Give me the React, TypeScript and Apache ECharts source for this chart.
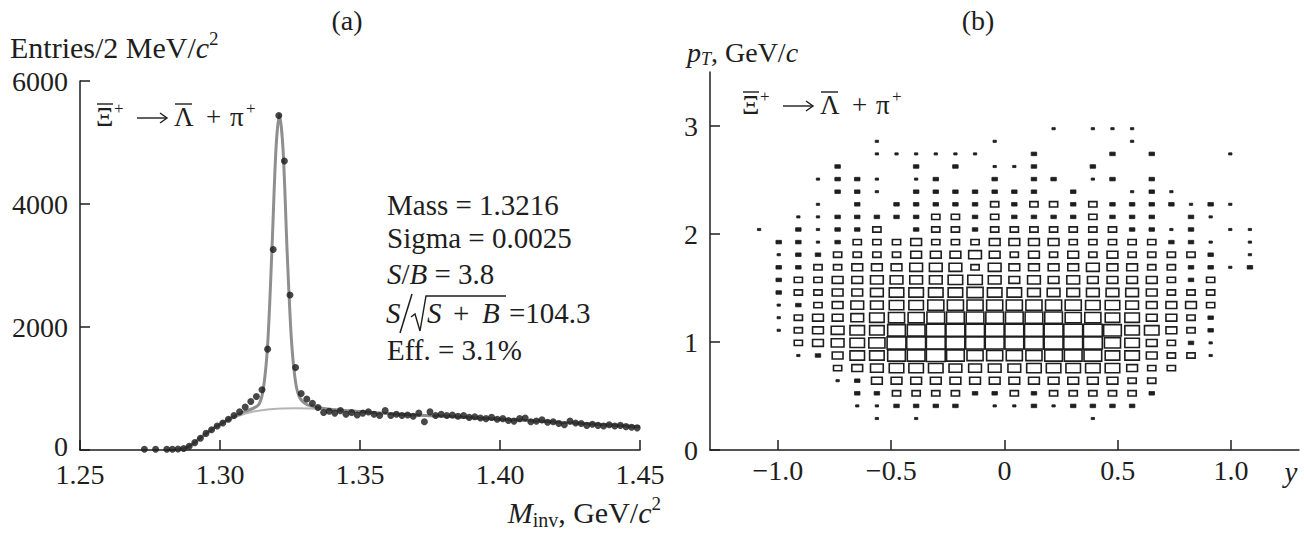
import React, { useEffect, useRef } from "react";
import * as echarts from "echarts";

const FONT = '"Liberation Serif", "DejaVu Serif", "Times New Roman", serif';
const INK = "#1e1e1e";

// ---------- Panel (a): invariant mass histogram (2 MeV bins) ----------
const massBinStart = 1.25;
const massBinWidth = 0.002;
const massFirstBin = 11;
const massCounts: (number | null)[] = [
  12, null, 12, null, 12, 12, 15, 25, 60, 120,
  190, 270, 330, 390, 440, 500, 560, 620, 700, 790,
  870, 980, 1640, 3260, 5440, 4700, 2520, 1340, 920, 830,
  760, 690, 610, 630, 600, 640, 580, 610, 570, 600,
  620, 580, 560, 640, 560, 580, 560, 570, 550, 600,
  460, 620, 560, 580, 560, 570, 550, 560, 530, 540,
  520, 510, 530, 500, 510, 480, 470, 510, 520, 460,
  470, 490, 450, 460, 430, 410, 470, 440, 430, 400,
  420, 400, 390, 410, 390, 400, 380, 370, 360,
];

// fit curve
const fitX = [1.284, 1.287, 1.29, 1.293, 1.296, 1.3, 1.304, 1.308, 1.312, 1.314, 1.3155, 1.317, 1.3185, 1.32, 1.3212, 1.3225, 1.324, 1.3255, 1.327, 1.3285, 1.331, 1.335, 1.34, 1.35, 1.36, 1.37, 1.38, 1.39, 1.4, 1.41, 1.42, 1.43, 1.44, 1.45];
const fitY = [0, 20, 90, 200, 300, 420, 520, 610, 680, 750, 1000, 1700, 3200, 4900, 5450, 4900, 3200, 1800, 1100, 850, 740, 690, 660, 625, 595, 570, 548, 525, 502, 478, 455, 430, 405, 380];
// background component
const bgX = [1.287, 1.292, 1.297, 1.302, 1.307, 1.312, 1.317, 1.322, 1.327, 1.332, 1.34, 1.36, 1.38, 1.4, 1.42, 1.44, 1.45];
const bgY = [10, 150, 330, 460, 560, 625, 660, 675, 680, 675, 655, 590, 540, 495, 450, 400, 375];

const massTicks = [1.25, 1.3, 1.35, 1.4, 1.45];
const countTicks = [0, 2000, 4000, 6000];

// ---------- Panel (b): pT vs y box histogram (30 x 30 bins) ----------
const rapMin = -1.3;
const rapMax = 1.3;
const ptMin = 0;
const ptMax = 3.5;
const nBins = 30;
// rows from top (pT bin 29) to bottom (pT bin 0); digit = box size level
const ptRows = [
  "..............................",
  "..............................",
  "..............................",
  "..............................",
  ".................1.111........",
  "........1.....1......1........",
  "........111111..2...2.2...1...",
  "......2...2.2.112..2..........",
  ".....1221.12..2.22.12.2.......",
  "......221.2222222.2..121......",
  ".....1.2.222223233232222121...",
  "....1122222332322223222.21....",
  "..1.21223.233233333332212.11..",
  "...22123334333444433333221.1..",
  "...12233334445434343433332.1..",
  "...2233444555354444544332212..",
  "...23344555566545454444323....",
  "...23344566667665555554333....",
  "...12345566777777776654443....",
  "...13445677888888877664432....",
  "...13456688999999999866432....",
  "....3456799999999999764321....",
  "....1246688987777888664331....",
  "......345666555566666433......",
  "......12444444444444433.......",
  ".......2233332232333332.......",
  ".......112222.11212222........",
  "........1.1........1..........",
  "..............................",
  "..............................",
];
const rapTicks = [-1, -0.5, 0, 0.5, 1];
const ptTicks = [0, 1, 2, 3];
const boxFrac = [0, 0.17, 0.28, 0.42, 0.55, 0.65, 0.74, 0.82, 0.9, 0.96];

function rich(size: number): any {
  const base = { fontFamily: FONT, fill: INK, color: INK };
  return {
    i: { ...base, fontStyle: "italic", fontSize: size },
    sup: { ...base, fontSize: Math.round(size * 0.62), padding: [0, 0, Math.round(size * 0.6), 0] },
    sub: { ...base, fontSize: Math.round(size * 0.66), padding: [Math.round(size * 0.5), 0, 0, 0] },
    isub: { ...base, fontStyle: "italic", fontSize: Math.round(size * 0.66), padding: [Math.round(size * 0.5), 0, 0, 0] },
  };
}

function txt(x: number, y: number, text: string, size = 29, extra: any = {}) {
  return {
    type: "text",
    x,
    y,
    silent: true,
    style: {
      text,
      fill: INK,
      fontFamily: FONT,
      fontSize: size,
      align: "left",
      verticalAlign: "middle",
      rich: rich(size),
      ...extra,
    },
  };
}

function bar(x1: number, x2: number, y: number, w = 1.4) {
  return {
    type: "line",
    silent: true,
    shape: { x1, y1: y, x2, y2: y },
    style: { stroke: INK, lineWidth: w },
  };
}

function poly(points: number[][], w = 1.4) {
  return {
    type: "polyline",
    silent: true,
    shape: { points },
    style: { stroke: INK, lineWidth: w, fill: null },
  };
}

function arrow(x1: number, x2: number, y: number): any[] {
  return [bar(x1, x2, y, 1.4), poly([[x2 - 7, y - 5], [x2, y], [x2 - 7, y + 5]])];
}

// "Xi-bar+ -> Lambda-bar + pi+" built from pieces (bars drawn as lines)
function reaction(x0: number, y: number): any[] {
  return [
    txt(x0, y, "\u039E", 27),
    bar(x0 + 1, x0 + 17, y - 13),
    txt(x0 + 18, y - 9, "+", 17),
    ...arrow(x0 + 41, x0 + 71, y + 1),
    txt(x0 + 78, y, "\u039B", 27),
    bar(x0 + 79, x0 + 96, y - 13),
    txt(x0 + 110, y, "+", 27),
    txt(x0 + 134, y, "\u03C0", 27),
    txt(x0 + 150, y - 9, "+", 17),
  ];
}

export default function App() {
  const ref = useRef<HTMLDivElement>(null);

  useEffect(() => {
    if (!ref.current) return;
    const chart = echarts.init(ref.current, undefined, { renderer: "svg" });

    const points: [number, number][] = [];
    massCounts.forEach((c, idx) => {
      if (c === null) return;
      const x = massBinStart + massBinWidth * (massFirstBin + idx + 0.5);
      points.push([x, c]);
    });

    const rapW = (rapMax - rapMin) / nBins;
    const ptH = (ptMax - ptMin) / nBins;
    const boxes: [number, number, number][] = [];
    ptRows.forEach((row, r) => {
      const j = nBins - 1 - r;
      for (let k = 0; k < row.length; k++) {
        const ch = row[k];
        if (ch === ".") continue;
        boxes.push([rapMin + rapW * (k + 0.5), ptMin + ptH * (j + 0.5), parseInt(ch, 10)]);
      }
    });

    const axisLine = { show: true, onZero: false, lineStyle: { color: INK, width: 1.5 } };
    const tick = { show: true, inside: true, length: 10, lineStyle: { color: INK, width: 1.5 } };
    const lbl = { color: INK, fontFamily: FONT, fontSize: 28, lineHeight: 20 };
    const zeroRich = { z: { fontFamily: FONT, fontSize: 28, color: INK, padding: [0, 0, 8, 0] } };

    const option: any = {
      animation: false,
      backgroundColor: "#ffffff",
      grid: [
        { left: 80, top: 81, width: 560, height: 369 },
        { left: 710, top: 72, width: 589, height: 378 },
      ],
      xAxis: [
        {
          type: "value",
          gridIndex: 0,
          min: 1.25,
          max: 1.45,
          axisLine,
          axisTick: { ...tick, customValues: massTicks },
          axisLabel: { ...lbl, margin: 14, customValues: massTicks, formatter: (v: number) => v.toFixed(2) },
          splitLine: { show: false },
        },
        {
          type: "value",
          gridIndex: 1,
          min: rapMin,
          max: rapMax,
          axisLine,
          axisTick: { ...tick, customValues: rapTicks },
          axisLabel: {
            ...lbl,
            margin: 10,
            customValues: rapTicks,
            formatter: (v: number) => (Math.abs(v) < 1e-9 ? "0" : (v < 0 ? "\u2212" : "") + Math.abs(v).toFixed(1)),
          },
          splitLine: { show: false },
        },
      ],
      yAxis: [
        {
          type: "value",
          gridIndex: 0,
          min: 0,
          max: 6000,
          axisLine,
          axisTick: { ...tick, customValues: countTicks },
          axisLabel: {
            ...lbl,
            margin: 12,
            customValues: countTicks,
            rich: zeroRich,
            formatter: (v: number) => (v === 0 ? "{z|0}" : String(v)),
          },
          splitLine: { show: false },
        },
        {
          type: "value",
          gridIndex: 1,
          min: ptMin,
          max: ptMax,
          axisLine,
          axisTick: { ...tick, customValues: ptTicks },
          axisLabel: { ...lbl, margin: 12, customValues: ptTicks, formatter: (v: number) => String(v) },
          splitLine: { show: false },
        },
      ],
      series: [
        {
          type: "line",
          xAxisIndex: 0,
          yAxisIndex: 0,
          data: bgX.map((x, i) => [x, bgY[i]]),
          showSymbol: false,
          smooth: 0.3,
          lineStyle: { color: "#b5b5b5", width: 2 },
          z: 1,
        },
        {
          type: "line",
          xAxisIndex: 0,
          yAxisIndex: 0,
          data: fitX.map((x, i) => [x, fitY[i]]),
          showSymbol: false,
          smooth: 0.3,
          lineStyle: { color: "#8f8f8f", width: 3 },
          z: 2,
        },
        {
          type: "scatter",
          xAxisIndex: 0,
          yAxisIndex: 0,
          data: points,
          symbol: "circle",
          symbolSize: 7,
          itemStyle: { color: "#1a1a1a" },
          z: 3,
        },
        {
          type: "custom",
          xAxisIndex: 1,
          yAxisIndex: 1,
          data: boxes,
          clip: false,
          renderItem: (params: any, api: any) => {
            const c = api.coord([api.value(0), api.value(1)]);
            const s = api.size([rapW, ptH]);
            const lvl = api.value(2) as number;
            const f = boxFrac[lvl] || 0;
            const w = s[0] * f;
            const h = s[1] * f;
            const small = lvl <= 2;
            return {
              type: "rect",
              shape: { x: c[0] - w / 2, y: c[1] - h / 2, width: w, height: h },
              style: {
                fill: small ? INK : "#ffffff",
                stroke: INK,
                lineWidth: small ? 0.8 : 1.6,
              },
            };
          },
          z: 3,
        },
      ],
      graphic: [
        txt(347, 20, "(a)", 28, { align: "center" }),
        txt(10, 47, "Entries/2 MeV/{i|c}{sup|2}", 30),
        txt(661, 512, "{i|M}{sub|inv}, GeV/{i|c}{sup|2}", 30, { align: "right" }),
        ...reaction(96, 117),
        txt(387, 205, "Mass = 1.3216"),
        txt(387, 238, "Sigma = 0.0025"),
        txt(387, 274, "{i|S}/{i|B} = 3.8"),
        // S / sqrt(S + B) = 104.3, slash and radical drawn as strokes
        txt(386, 313, "{i|S}"),
        bar(0, 0, 0, 0),
        { type: "line", silent: true, shape: { x1: 400, y1: 333, x2: 412, y2: 294 }, style: { stroke: INK, lineWidth: 1.5 } },
        poly([[411, 317], [415, 314], [420, 331], [426, 296], [506, 296]], 1.4),
        txt(427, 313, "{i|S}"),
        txt(453, 313, "+"),
        txt(482, 313, "{i|B}"),
        txt(509, 313, "=104.3"),
        txt(387, 350, "Eff. = 3.1%"),
        txt(978, 20, "(b)", 28, { align: "center" }),
        txt(687, 52, "{i|p}{isub|T}, GeV/{i|c}", 28),
        ...reaction(742, 105),
        txt(1291, 472, "{i|y}", 29, { align: "center" }),
      ],
    };

    chart.setOption(option);
    return () => chart.dispose();
  }, []);

  return (
    <div
      ref={ref}
      style={{ position: "fixed", left: 0, top: 0, width: 1304, height: 535, background: "#fff" }}
    />
  );
}
